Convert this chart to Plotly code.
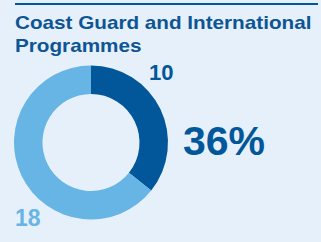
import plotly.graph_objects as go

labels = ["Coast Guard and International Programmes", "Other"]
values = [10, 18]
colors = ["#01579A", "#67B5E5"]
title_text = "Coast Guard and International<br>Programmes"

W, H = 321, 242
share = round(values[0] / sum(values) * 100)

fig = go.Figure()
fig.add_trace(go.Pie(
    labels=labels, values=values, hole=0.63, sort=False,
    direction="clockwise", rotation=0,
    marker=dict(colors=colors, line=dict(width=0)),
    textinfo="none", hoverinfo="label+value",
    domain=dict(x=[14 / W, 168 / W], y=[1 - 220 / H, 1 - 65 / H]),
    showlegend=False,
))

bg = "#E6F0FA"
fig.update_layout(
    width=W, height=H, margin=dict(l=0, r=0, t=0, b=0),
    paper_bgcolor=bg, plot_bgcolor=bg,
    font=dict(family="Liberation Sans, Arial, sans-serif"),
)

# top rule
fig.add_shape(type="line", xref="paper", yref="paper",
              x0=15 / W, x1=318 / W, y0=1 - 4 / H, y1=1 - 4 / H,
              line=dict(color="#01579A", width=2))

fig.add_annotation(text="<b>" + title_text + "</b>", xref="paper", yref="paper",
                   x=13 / W, y=1 - 11 / H, xanchor="left", yanchor="top",
                   align="left", showarrow=False,
                   font=dict(size=18, color="#0E5595"))
fig.add_annotation(text="<b>%d</b>" % values[0], xref="paper", yref="paper",
                   x=161 / W, y=1 - 72 / H, xanchor="center", yanchor="middle",
                   showarrow=False, font=dict(size=22, color="#01579A"))
fig.add_annotation(text="<b>%d</b>" % values[1], xref="paper", yref="paper",
                   x=28 / W, y=1 - 218 / H, xanchor="center", yanchor="middle",
                   showarrow=False, font=dict(size=23, color="#67B5E5"))
fig.add_annotation(text="<b>%d%%</b>" % share, xref="paper", yref="paper",
                   x=224 / W, y=1 - 141 / H, xanchor="center", yanchor="middle",
                   showarrow=False, font=dict(size=41, color="#01579A"))

post = """
document.body.style.margin='0';
var t = document.querySelectorAll('.annotation-text')[0];
if (t) {
  t.style.transformBox = 'fill-box';
  t.style.transformOrigin = 'left center';
  t.style.transform = 'scaleX(1.15)';
}
"""

fig.write_html("out.html", post_script=post, config={"displayModeBar": False})
